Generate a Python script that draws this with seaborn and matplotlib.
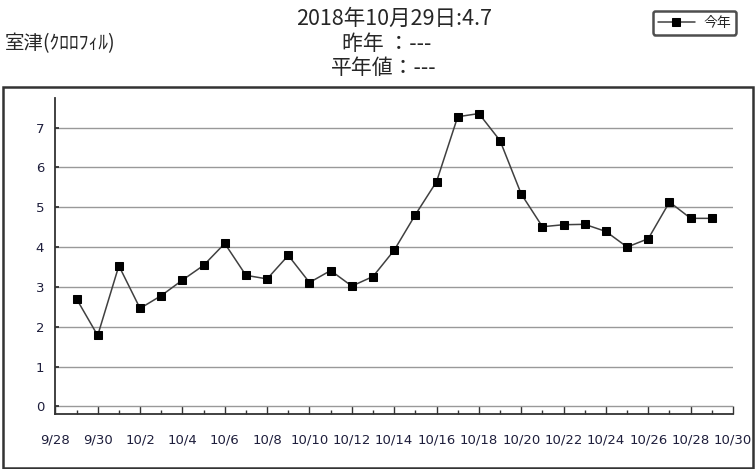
import seaborn as sns
import matplotlib.pyplot as plt
import matplotlib.dates as mdates
from matplotlib.patches import Rectangle
import pandas as pd

# daily chlorophyll at Murotsu, 9/29 - 10/29
dates = pd.date_range('2018-09-29', '2018-10-29', freq='D')
chl = [2.70, 1.78, 3.53, 2.46, 2.78, 3.17, 3.54, 4.09, 3.29, 3.20,
       3.79, 3.11, 3.41, 3.02, 3.26, 3.92, 4.81, 5.64, 7.27, 7.35,
       6.67, 5.33, 4.51, 4.56, 4.57, 4.39, 4.00, 4.21, 5.13, 4.72, 4.72]
yticks = [0, 1, 2, 3, 4, 5, 6, 7]
xticks = pd.date_range('2018-09-28', '2018-10-30', freq='2D')

sns.set_style('white')
plt.rcParams['font.family'] = ['Noto Sans CJK JP', 'DejaVu Sans']

fig = plt.figure(figsize=(7.56, 4.69), dpi=100)
ax = fig.add_axes([0.0732, 0.1173, 0.8964, 0.6737])

df = pd.DataFrame({'date': dates, 'chl': chl})
sns.lineplot(data=df, x='date', y='chl', ax=ax, color='#404040', lw=1.1,
             marker='s', markersize=5.6, markerfacecolor='black',
             markeredgecolor='black', label='今年')

ax.set_xlim(xticks[0], xticks[-1])
ax.set_ylim(-0.19, 7.74)
ax.set_yticks(yticks)
ax.set_xticks(xticks)
ax.set_xticklabels([f'{d.month}/{d.day}' for d in xticks])
ax.xaxis.set_minor_locator(mdates.DayLocator())
ax.set_xlabel('')
ax.set_ylabel('')

ax.grid(axis='y', color='#999999', lw=1.0)
ax.grid(axis='x', visible=False)
for s in ['top', 'right']:
    ax.spines[s].set_visible(False)
for s in ['left', 'bottom']:
    ax.spines[s].set_color('#333333')
    ax.spines[s].set_linewidth(1.3)

ax.tick_params(axis='x', which='major', bottom=True, direction='in', length=6,
               width=1, color='#333333', pad=14, labelsize=9.5,
               labelcolor='#1e1e3c')
ax.tick_params(axis='x', which='minor', bottom=True, direction='in', length=3,
               width=1, color='#333333')
ax.tick_params(axis='y', left=True, direction='in', length=3, width=1.3,
               color='#333333', pad=8, labelsize=9.5, labelcolor='#1e1e3c')
for t in ax.get_xticklabels() + ax.get_yticklabels():
    t.set_fontfamily('DejaVu Sans')

leg = ax.legend(loc='upper left', bbox_to_anchor=(656 / 756, 1 - 14 / 469),
                bbox_transform=fig.transFigure, fontsize=10, frameon=True,
                fancybox=True, handlelength=2.7, borderpad=0.12,
                handletextpad=0.6, borderaxespad=0)
leg.get_frame().set_edgecolor('#222222')
leg.get_frame().set_linewidth(1.8)
leg.get_frame().set_boxstyle('round', pad=0.25, rounding_size=0.2)

# outer chart frame
fig.add_artist(Rectangle((3 / 756, 1 / 469), 750 / 756, 381 / 469,
                         transform=fig.transFigure, fill=False,
                         edgecolor='#333333', lw=1.8))

fig.text(0.521, 0.9595, '2018年10月29日:4.7', ha='center', va='center', fontsize=15.5)
fig.text(0.511, 0.906, '昨年 ：---', ha='center', va='center', fontsize=15)
fig.text(0.507, 0.855, '平年値：---', ha='center', va='center', fontsize=15)
fig.text(0.0066, 0.906, '室津(ｸﾛﾛﾌｨﾙ)', ha='left', va='center', fontsize=14)

fig.savefig('out.png', dpi=100)
